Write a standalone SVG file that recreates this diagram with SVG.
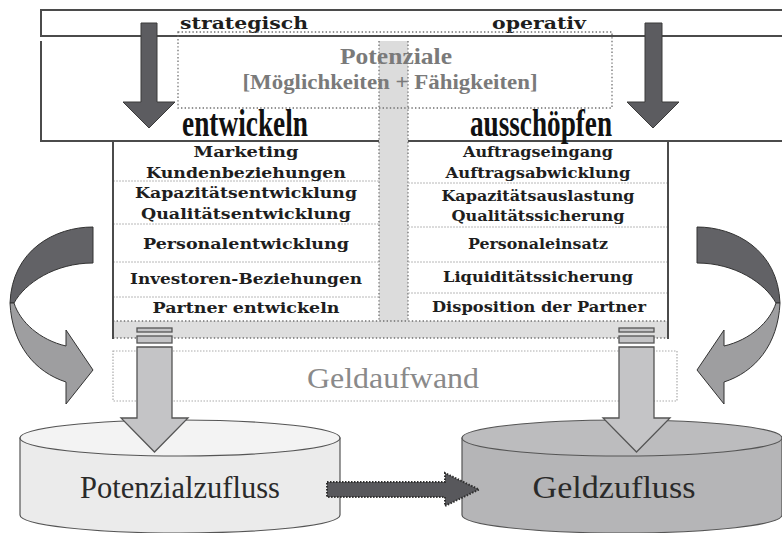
<svg xmlns="http://www.w3.org/2000/svg" width="782" height="533" viewBox="0 0 782 533">
  <style>
    .frame{fill:none;stroke:#4b4b4b;stroke-width:2}
    .dot{fill:none;stroke:#707070;stroke-width:1.3;stroke-dasharray:1.4 2.2}
    .sep{fill:none;stroke:#b8b8b8;stroke-width:1;stroke-dasharray:2 1}
    .item{font-family:'DejaVu Serif','Liberation Serif',serif;font-weight:bold;font-size:14px;fill:#1e1e1e;text-anchor:middle}
    .head{font-family:'DejaVu Serif','Liberation Serif',serif;font-weight:bold;font-size:16px;fill:#1e1e1e}
    .big{font-family:'Liberation Serif','Times New Roman',serif;font-weight:bold;font-size:38px;fill:#111}
    .pot{font-family:'Liberation Serif','Times New Roman',serif;font-weight:bold;fill:#7a7a7a;text-anchor:middle}
    .reg{font-family:'Liberation Serif','Times New Roman',serif;text-anchor:middle}
    .down{fill:#5c5c60;stroke:#3a3a3a;stroke-width:1}
    .pipe{fill:#c4c4c6;stroke:#555;stroke-width:1.3}
    .back{fill:#626266;stroke:#333;stroke-width:1}
    .front{fill:#9e9ea0;stroke:#333;stroke-width:1}
  </style>
  <defs>
    <g id="twist">
      <path class="back" d="M93,227 C55,227 12,250 10,303 L14,303 C25,283 55,263 93,263 Z"/>
      <path class="front" d="M10,303 C12,345 35,372 66,382 L66,404 L93,370 L66,330 L66,346 C40,340 20,322 14,303 Z"/>
    </g>
  </defs>

  <!-- header band and frame -->
  <g id="header">
    <path class="frame" d="M782,10 H41 V36 H782 M41,41 V141 H782"/>
    <rect x="379" y="41" width="29" height="297" fill="#dcdcdc"/>
    <path class="dot" d="M379,41 V338 M408,41 V338"/>
    <text class="head" x="180" y="29" textLength="128" lengthAdjust="spacingAndGlyphs">strategisch</text>
    <text class="head" x="492" y="29" textLength="94" lengthAdjust="spacingAndGlyphs">operativ</text>
    <text class="big" x="182" y="136" textLength="126" lengthAdjust="spacingAndGlyphs">entwickeln</text>
    <text class="big" x="470" y="136" textLength="142" lengthAdjust="spacingAndGlyphs">ausschöpfen</text>
  </g>

  <!-- potentials box -->
  <g id="potenziale">
    <rect class="dot" x="178" y="32" width="434" height="76"/>
    <text class="pot" x="396" y="64" font-size="24" textLength="112" lengthAdjust="spacingAndGlyphs">Potenziale</text>
    <text class="pot" x="390" y="89" font-size="22" textLength="295" lengthAdjust="spacingAndGlyphs">[Möglichkeiten + Fähigkeiten]</text>
  </g>

  <!-- left column: entwickeln -->
  <g id="col-entwickeln">
    <rect x="113" y="321" width="555" height="17" fill="#dedede"/>
    <path class="sep" d="M113,181 H379 M113,224 H379 M113,262 H379 M113,297 H379"/>
    <path class="dot" d="M113,321 H668 M113,338 H668"/>
    <path class="frame" d="M113,141 V339"/>
    <text class="item" x="246" y="157" textLength="105" lengthAdjust="spacingAndGlyphs">Marketing</text>
    <text class="item" x="246" y="178" textLength="200" lengthAdjust="spacingAndGlyphs">Kundenbeziehungen</text>
    <text class="item" x="246" y="198" textLength="222" lengthAdjust="spacingAndGlyphs">Kapazitätsentwicklung</text>
    <text class="item" x="246" y="219" textLength="210" lengthAdjust="spacingAndGlyphs">Qualitätsentwicklung</text>
    <text class="item" x="246" y="249" textLength="206" lengthAdjust="spacingAndGlyphs">Personalentwicklung</text>
    <text class="item" x="246" y="284" textLength="232" lengthAdjust="spacingAndGlyphs">Investoren-Beziehungen</text>
    <text class="item" x="246" y="313" textLength="187" lengthAdjust="spacingAndGlyphs">Partner entwickeln</text>
  </g>

  <!-- right column: ausschöpfen -->
  <g id="col-ausschoepfen">
    <path class="sep" d="M408,183 H668 M408,227 H668 M408,262 H668 M408,293 H668"/>
    <path class="frame" d="M668,141 V339"/>
    <text class="item" x="538" y="157" textLength="150" lengthAdjust="spacingAndGlyphs">Auftragseingang</text>
    <text class="item" x="538" y="178" textLength="185" lengthAdjust="spacingAndGlyphs">Auftragsabwicklung</text>
    <text class="item" x="538" y="201" textLength="193" lengthAdjust="spacingAndGlyphs">Kapazitätsauslastung</text>
    <text class="item" x="538" y="221" textLength="173" lengthAdjust="spacingAndGlyphs">Qualitätssicherung</text>
    <text class="item" x="538" y="249" textLength="140" lengthAdjust="spacingAndGlyphs">Personaleinsatz</text>
    <text class="item" x="538" y="282" textLength="190" lengthAdjust="spacingAndGlyphs">Liquiditätssicherung</text>
    <text class="item" x="539" y="312" textLength="214" lengthAdjust="spacingAndGlyphs">Disposition der Partner</text>
  </g>

  <!-- money spend band -->
  <g id="geldaufwand">
    <rect x="113" y="351" width="564" height="50" fill="none" stroke="#ababab" stroke-width="1.2" stroke-dasharray="1.5 1.5"/>
    <text class="reg" x="393" y="388" font-size="30" fill="#8a8a8a" textLength="172" lengthAdjust="spacingAndGlyphs">Geldaufwand</text>
  </g>

  <!-- stores -->
  <g id="potenzialzufluss">
    <path d="M20,438 V515 A160,18 0 0 0 340,515 V438 Z" fill="#ebebeb" stroke="#555" stroke-width="1.2"/>
    <ellipse cx="180" cy="438" rx="160" ry="18" fill="#f3f3f3" stroke="#555" stroke-width="1.2"/>
    <text class="reg" x="180" y="498" font-size="31" fill="#2a2a2a" textLength="200" lengthAdjust="spacingAndGlyphs">Potenzialzufluss</text>
  </g>
  <g id="geldzufluss">
    <path d="M462,438 V515 A160,18 0 0 0 782,515 V438 Z" fill="#b5b5b7" stroke="#555" stroke-width="1.2"/>
    <ellipse cx="622" cy="438" rx="160" ry="18" fill="#bcbcbe" stroke="#555" stroke-width="1.2"/>
    <text class="reg" x="614" y="498" font-size="31" fill="#2a2a2a" textLength="163" lengthAdjust="spacingAndGlyphs">Geldzufluss</text>
  </g>

  <!-- connectors -->
  <g id="connectors">
    <path class="down" d="M141,23 H157 V102 H175 L149,128 L123,102 H141 Z"/>
    <path class="down" d="M645,23 H662 V102 H679 L653,128 L627,102 H645 Z"/>
    <use href="#twist"/>
    <use href="#twist" transform="matrix(-1 0 0 1 790 0)"/>
    <rect class="pipe" x="137" y="328" width="35" height="4"/>
    <rect class="pipe" x="137" y="336" width="35" height="7"/>
    <path class="pipe" d="M137,347 H172 V418 H188 L154.5,452 L121,418 H137 Z"/>
    <rect class="pipe" x="619" y="328" width="35" height="4"/>
    <rect class="pipe" x="619" y="336" width="35" height="7"/>
    <path class="pipe" d="M619,347 H654 V418 H670 L636.5,452 L603,418 H619 Z"/>
    <path d="M327,482 H445 V473 L479,489.5 L445,506 V497 H327 Z" fill="#58585c" stroke="#2e2e2e" stroke-width="2" stroke-dasharray="1.5 1.5"/>
  </g>
</svg>
